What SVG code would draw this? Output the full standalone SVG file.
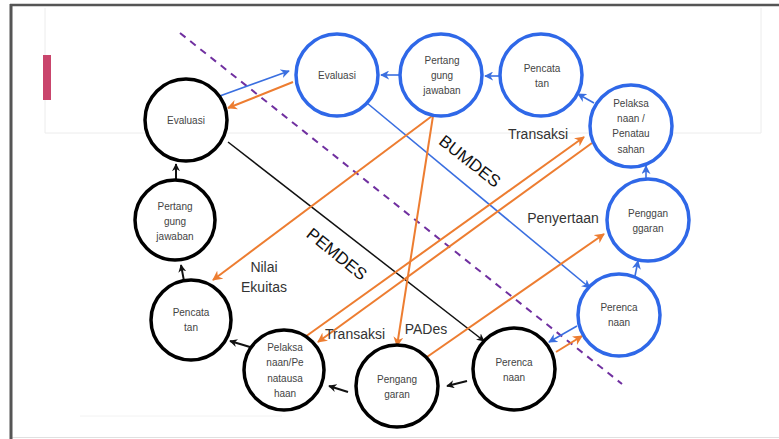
<svg xmlns="http://www.w3.org/2000/svg" width="779" height="439" viewBox="0 0 779 439">
<defs>
<style>
.bk{fill:#fff;stroke:#000;stroke-width:3.5}
.bl{fill:#fff;stroke:#2f68e8;stroke-width:3.5}
.nt{font-family:"Liberation Sans",Arial,sans-serif;font-size:10px;fill:#444;text-anchor:middle}
.lb{font-family:"Liberation Sans",Arial,sans-serif;font-size:14px;fill:#333;text-anchor:middle}
.big{font-family:"Liberation Sans",Arial,sans-serif;font-size:17px;fill:#111;text-anchor:middle}
.ck{stroke:#111;stroke-width:2;fill:none}
.ck1{stroke:#111;stroke-width:1.5;fill:none}
.cb{stroke:#3a6fe0;stroke-width:1.6;fill:none}
.co{stroke:#ed7d31;stroke-width:2;fill:none}
</style>
<marker id="ak" viewBox="0 0 10 10" refX="9" refY="5" markerWidth="8" markerHeight="8" markerUnits="userSpaceOnUse" orient="auto"><path d="M0,0 L10,5 L0,10 L3,5 Z" fill="#111"/></marker>
<marker id="ab" viewBox="0 0 10 10" refX="9" refY="5" markerWidth="9" markerHeight="9" markerUnits="userSpaceOnUse" orient="auto"><path d="M0,0 L10,5 L0,10 L3,5 Z" fill="#3a6fe0"/></marker>
<marker id="ao" viewBox="0 0 10 10" refX="9" refY="5" markerWidth="10" markerHeight="10" markerUnits="userSpaceOnUse" orient="auto"><path d="M0,0 L10,5 L0,10 L3,5 Z" fill="#ed7d31"/></marker>
</defs>
<rect width="779" height="439" fill="#fff"/>
<g id="background">
<path d="M45,8 V133 H761 V8" fill="none" stroke="#ececec" stroke-width="1"/>
<rect x="43" y="55" width="8" height="45" fill="#c9456c"/>
<line x1="80" y1="416" x2="282" y2="416" stroke="#f2f2f2" stroke-width="1"/>
<line x1="12" y1="437.5" x2="779" y2="437.5" stroke="#e0e0e0" stroke-width="1"/>
<line x1="10" y1="5" x2="779" y2="5" stroke="#555" stroke-width="2.5"/>
<line x1="11" y1="4" x2="11" y2="439" stroke="#555" stroke-width="3"/>
<line x1="180" y1="33" x2="622" y2="384" stroke="#7030a0" stroke-width="2" stroke-dasharray="7,6"/>
</g>
<g id="connectors">
<line class="ck" x1="176" y1="180" x2="176" y2="164" marker-end="url(#ak)"/>
<line class="ck" x1="184" y1="281" x2="181" y2="265" marker-end="url(#ak)"/>
<line class="ck" x1="250" y1="347" x2="230" y2="341" marker-end="url(#ak)"/>
<line class="ck" x1="348" y1="392" x2="329" y2="386" marker-end="url(#ak)"/>
<line class="ck" x1="467" y1="381" x2="447" y2="386" marker-end="url(#ak)"/>
<line class="ck1" x1="228" y1="142" x2="484" y2="341" marker-end="url(#ak)"/>
<line class="cb" x1="499" y1="76" x2="485" y2="76" marker-end="url(#ab)"/>
<line class="cb" x1="594" y1="103" x2="578" y2="94" marker-end="url(#ab)"/>
<line class="cb" x1="646" y1="181" x2="646" y2="166" marker-end="url(#ab)"/>
<line class="cb" x1="635" y1="276" x2="638" y2="261" marker-end="url(#ab)"/>
<line class="cb" x1="399" y1="75" x2="381" y2="75" marker-end="url(#ab)"/>
<line class="cb" x1="217" y1="97" x2="289" y2="71" marker-end="url(#ab)"/>
<line class="cb" x1="367" y1="103" x2="590" y2="288" marker-end="url(#ab)"/>
<line class="cb" x1="577" y1="326" x2="549" y2="342" marker-end="url(#ab)"/>
<line class="co" x1="293" y1="82" x2="228" y2="108" marker-end="url(#ao)"/>
<line class="co" x1="432" y1="116" x2="213" y2="280" marker-end="url(#ao)"/>
<line class="co" x1="433" y1="116" x2="397" y2="346" marker-end="url(#ao)"/>
<line class="co" x1="305" y1="337" x2="584" y2="137" marker-end="url(#ao)"/>
<line class="co" x1="592" y1="143" x2="318" y2="342" marker-end="url(#ao)"/>
<line class="co" x1="427" y1="357" x2="604" y2="234" marker-end="url(#ao)"/>
<line class="co" x1="556" y1="352" x2="582" y2="336" marker-end="url(#ao)"/>
</g>
<g id="labels">
<text class="big" transform="translate(470,161) rotate(38)" dy="6">BUMDES</text>
<text class="big" transform="translate(337,254) rotate(39)" dy="6">PEMDES</text>
<text class="lb" x="538" y="139">Transaksi</text>
<text class="lb" x="563" y="223">Penyertaan</text>
<text class="lb" x="264" y="272">Nilai</text>
<text class="lb" x="264" y="292">Ekuitas</text>
<text class="lb" x="355" y="339">Transaksi</text>
<text class="lb" x="426" y="334">PADes</text>
</g>
<g id="k-evaluasi"><circle class="bk" cx="186" cy="120" r="41"/><text class="nt" x="186" y="124">Evaluasi</text></g>
<g id="k-pertanggungjawaban"><circle class="bk" cx="175" cy="220" r="40"/><text class="nt" x="175" y="210">Pertang</text><text class="nt" x="175" y="225">gung</text><text class="nt" x="175" y="240">jawaban</text></g>
<g id="k-pencatatan"><circle class="bk" cx="191" cy="320" r="40"/><text class="nt" x="191" y="316">Pencata</text><text class="nt" x="191" y="331">tan</text></g>
<g id="k-pelaksanaan"><circle class="bk" cx="284" cy="370" r="40"/><text class="nt" x="285" y="351">Pelaksa</text><text class="nt" x="285" y="366">naan/Pe</text><text class="nt" x="285" y="382">natausa</text><text class="nt" x="285" y="397">haan</text></g>
<g id="k-penganggaran"><circle class="bk" cx="397" cy="386" r="41"/><text class="nt" x="397" y="383">Pengang</text><text class="nt" x="397" y="398">garan</text></g>
<g id="k-perencanaan"><circle class="bk" cx="514" cy="369" r="41"/><text class="nt" x="514" y="366">Perenca</text><text class="nt" x="514" y="381">naan</text></g>
<g id="b-evaluasi"><circle class="bl" cx="337" cy="75" r="41"/><text class="nt" x="337" y="79">Evaluasi</text></g>
<g id="b-pertanggungjawaban"><circle class="bl" cx="441" cy="75" r="41"/><text class="nt" x="442" y="64">Pertang</text><text class="nt" x="442" y="79">gung</text><text class="nt" x="442" y="94">jawaban</text></g>
<g id="b-pencatatan"><circle class="bl" cx="541" cy="75" r="41"/><text class="nt" x="542" y="72">Pencata</text><text class="nt" x="542" y="87">tan</text></g>
<g id="b-pelaksanaan"><circle class="bl" cx="631" cy="126" r="41"/><text class="nt" x="631" y="107">Pelaksa</text><text class="nt" x="631" y="122">naan /</text><text class="nt" x="631" y="137">Penatau</text><text class="nt" x="631" y="153">sahan</text></g>
<g id="b-penganggaran"><circle class="bl" cx="648" cy="220" r="41"/><text class="nt" x="648" y="217">Penggan</text><text class="nt" x="648" y="232">ggaran</text></g>
<g id="b-perencanaan"><circle class="bl" cx="619" cy="315" r="41"/><text class="nt" x="619" y="311">Perenca</text><text class="nt" x="619" y="326">naan</text></g>
</svg>
